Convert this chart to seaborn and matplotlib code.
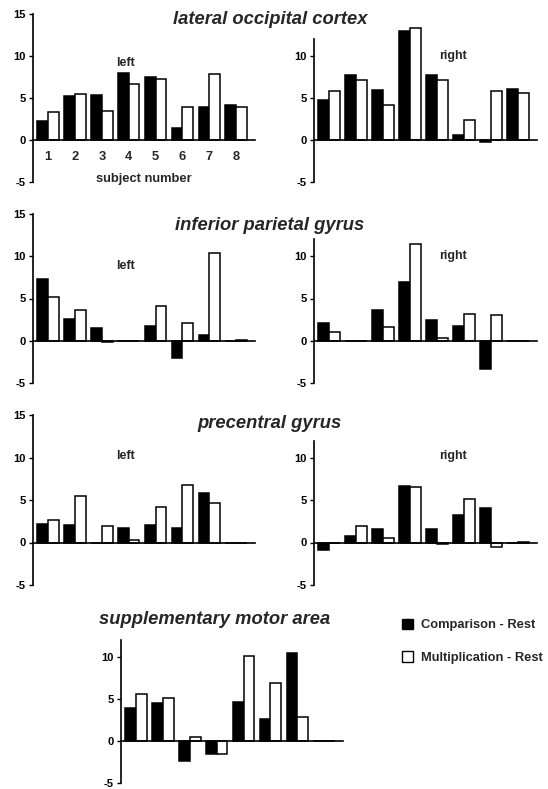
import pandas as pd
import matplotlib
matplotlib.use('Agg')
import matplotlib.pyplot as plt
import seaborn as sns
from matplotlib.patches import Patch

sns.set_style('white')
plt.rcParams['font.family'] = ['Liberation Sans', 'DejaVu Sans']
plt.rcParams['font.weight'] = 'bold'
plt.rcParams['axes.unicode_minus'] = False

# 데이터
subjects = ['1', '2', '3', '4', '5', '6', '7', '8']
conditions = ['Comparison - Rest', 'Multiplication - Rest']

loc_left_comp = [2.3, 5.2, 5.4, 8.0, 7.5, 1.4, 3.9, 4.2]
loc_left_mult = [3.3, 5.5, 3.4, 6.7, 7.3, 3.9, 7.9, 3.9]
loc_right_comp = [4.8, 7.7, 5.9, 13.0, 7.7, 0.6, -0.2, 6.1]
loc_right_mult = [5.8, 7.2, 4.2, 13.3, 7.2, 2.4, 5.8, 5.6]

ipg_left_comp = [7.3, 2.6, 1.5, 0.0, 1.8, -2.0, 0.7, 0.0]
ipg_left_mult = [5.2, 3.6, -0.1, 0.0, 4.1, 2.1, 10.4, 0.1]
ipg_right_comp = [2.1, 0.0, 3.6, 7.0, 2.5, 1.7, -3.4, 0.0]
ipg_right_mult = [1.0, 0.0, 1.6, 11.5, 0.3, 3.2, 3.0, 0.0]

pcg_left_comp = [2.2, 2.1, -0.1, 1.7, 2.1, 1.7, 5.8, 0.0]
pcg_left_mult = [2.7, 5.5, 2.0, 0.3, 4.2, 6.8, 4.7, 0.0]
pcg_right_comp = [-0.9, 0.8, 1.6, 6.7, 1.6, 3.2, 4.1, 0.0]
pcg_right_mult = [0.0, 1.9, 0.5, 6.5, -0.2, 5.1, -0.5, 0.1]

sma_comp = [3.9, 4.5, -2.4, -1.5, 4.6, 2.6, 10.5, 0.0]
sma_mult = [5.6, 5.1, 0.5, -1.6, 10.1, 6.9, 2.9, 0.0]

region_titles = ['lateral occipital cortex', 'inferior parietal gyrus',
                 'precentral gyrus', 'supplementary motor area']
hemi_labels = ['left', 'right']


def make_df(comp, mult):
    return pd.DataFrame({
        'subject': subjects * 2,
        'value': comp + mult,
        'condition': [conditions[0]] * 8 + [conditions[1]] * 8,
    })


W, H = 548, 789
fig = plt.figure(figsize=(W / 100, H / 100), dpi=100)


def px_axes(x0, ytop, x1, ybot):
    return fig.add_axes([x0 / W, 1 - ybot / H, (x1 - x0) / W, (ybot - ytop) / H])


palette = {conditions[0]: 'black', conditions[1]: 'white'}


def draw_panel(ax, comp, mult, top15=True, show_x=False):
    sns.barplot(data=make_df(comp, mult), x='subject', y='value', hue='condition',
                order=subjects, hue_order=conditions, palette=palette,
                edgecolor='black', linewidth=1.1, saturation=1, errorbar=None,
                legend=False, ax=ax)
    ax.set_xlim(-0.56, 7.7)
    ax.set_ylim(-5, 15)
    ax.set_ylabel('')
    ax.set_xlabel('')
    for s in ['top', 'right']:
        ax.spines[s].set_visible(False)
    ax.spines['bottom'].set_position(('data', 0))
    for s in ['left', 'bottom']:
        ax.spines[s].set_linewidth(1.2)
        ax.spines[s].set_color('black')
    if top15:
        ax.set_yticks([-5, 0, 5, 10, 15])
    else:
        ax.set_yticks([-5, 0, 5, 10])
        ax.spines['left'].set_bounds(-5, 12)
    ax.tick_params(axis='y', left=True, direction='out', length=3, width=1,
                   pad=2, labelsize=8, colors='black')
    for lab in ax.get_yticklabels():
        lab.set_fontweight('bold')
    if show_x:
        ax.tick_params(axis='x', bottom=False, length=0, pad=8, labelsize=9.3)
        for lab in ax.get_xticklabels():
            lab.set_fontweight('bold')
        ax.set_xlabel('subject number', fontsize=9.3, fontweight='bold', labelpad=7)
    else:
        ax.tick_params(axis='x', bottom=False, labelbottom=False)
    ax.patch.set_alpha(0)


rows = [(14, 182), (214, 383), (415, 585)]
panel_data = [
    (loc_left_comp, loc_left_mult, loc_right_comp, loc_right_mult),
    (ipg_left_comp, ipg_left_mult, ipg_right_comp, ipg_right_mult),
    (pcg_left_comp, pcg_left_mult, pcg_right_comp, pcg_right_mult),
]
title_y = [20, 225, 424]
label_y = [(9.2, 10.0), (8.9, 10.0), (10.2, 10.2)]

for i, (ytop, ybot) in enumerate(rows):
    lc, lm, rc, rm = panel_data[i]
    axl = px_axes(33, ytop, 255, ybot)
    draw_panel(axl, lc, lm, top15=True, show_x=(i == 0))
    axl.text(2.9, label_y[i][0], hemi_labels[0], ha='center', va='center',
             fontsize=9, fontweight='bold')
    axr = px_axes(314, ytop, 537, ybot)
    draw_panel(axr, rc, rm, top15=False)
    axr.text(4.6, label_y[i][1], hemi_labels[1], ha='center', va='center',
             fontsize=9, fontweight='bold')
    fig.text(270 / W, 1 - title_y[i] / H, region_titles[i], ha='center', va='center',
             fontsize=13.2, fontweight='bold', fontstyle='italic')

# 보조운동영역
axs = px_axes(121, 615, 343, 783)
draw_panel(axs, sma_comp, sma_mult, top15=False)
fig.text(215 / W, 1 - 620 / H, region_titles[3], ha='center', va='center',
         fontsize=13.2, fontweight='bold', fontstyle='italic')

handles = [Patch(facecolor='black', edgecolor='black', linewidth=1.0),
           Patch(facecolor='white', edgecolor='black', linewidth=1.0)]
fig.legend(handles, conditions, loc='upper left', bbox_to_anchor=(390 / W, 1 - 607 / H),
           frameon=False, handlelength=0.9, handleheight=0.9, handletextpad=0.6,
           labelspacing=1.55, prop={'size': 9.3, 'weight': 'bold'})

fig.savefig('out.png', dpi=100)
